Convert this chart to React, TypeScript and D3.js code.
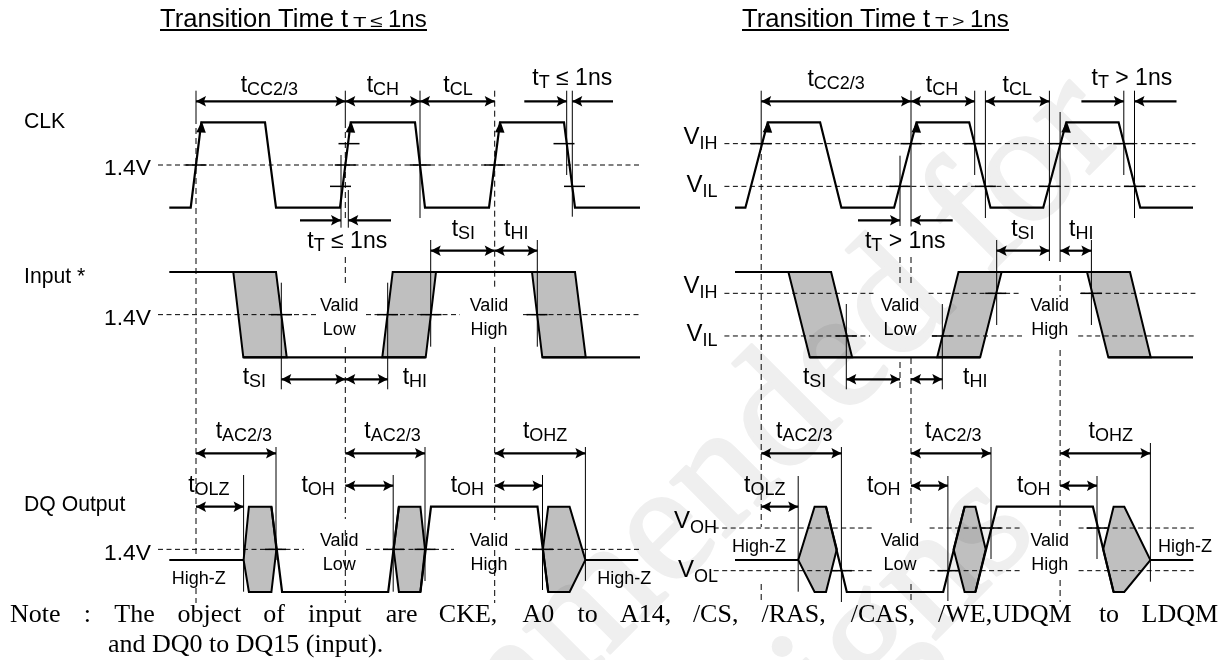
import React from "react";
import * as d3 from "d3";

// ---------- data: times are relative to the first CLK reference edge, levels 0 = low, 1 = high ----------
type P = [number, number];
const clkLeft: P[] = [[-26.7,0],[-5.3,0],[5.3,1],[69,1],[80,0],[144,0],[154.7,1],[219,1],[229,0],[293,0],[304,1],[368,1],[379,0],[444,0]];
const clkRight: P[] = [[-26.2,0],[-15.8,0],[6.5,1],[58.9,1],[80.2,0],[132.9,0],[155.3,1],[208,1],[229.3,0],[282,0],[305.1,1],[357.4,1],[379.1,0],[431.8,0]];
const clkArrowsLeft = [5.3,154.7,304];
const clkArrowsRight = [6.5,155.3,305.1];

const inputEyesLeft: P[][] = [
  [[37.3,1],[80,1],[90.7,0],[47.3,0]],
  [[196.7,1],[240,1],[229.7,0],[186.3,0]],
  [[336,1],[379,1],[389.7,0],[346.3,0]],
];
const inputRailsLeft: P[][] = [[[-26.7,1],[80,1]],[[196.7,1],[379,1]],[[47.3,0],[229.7,0]],[[346.3,0],[444,0]]];
const inputEyesRight: P[][] = [
  [[27.2,1],[69.9,1],[90.9,0],[48.6,0]],
  [[197.3,1],[240.4,1],[219,0],[176,0]],
  [[325.8,1],[368.8,1],[389.5,0],[347.1,0]],
];
const inputRailsRight: P[][] = [[[-26.2,1],[69.9,1]],[[197.3,1],[368.8,1]],[[48.6,0],[219,0]],[[347.1,0],[431.8,0]]];

const dqHexLeft: P[][] = [
  [[47.6,.375],[52.9,1],[75.4,1],[80.4,.5],[75.4,0],[52.9,0]],
  [[197.6,.5],[202.9,1],[224.4,1],[229,.5],[224.4,0],[202.9,0]],
  [[346.9,.5],[352.2,1],[373.6,1],[389.4,.375],[373.6,0],[352.2,0]],
];
const dqLinesLeft: P[][] = [
  [[-26.7,.375],[47.6,.375]],
  [[75.4,1],[86.1,0],[192.2,0],[202.9,1]],
  [[224.4,0],[235,1],[341.5,1],[352.2,0]],
  [[389.4,.375],[442.2,.375]],
];
const dqHexRight: P[][] = [
  [[37,.375],[53.4,1],[64.8,1],[75.6,.5],[64.8,0],[53.4,0]],
  [[192.4,.5],[203.4,1],[214.2,1],[224.5,.5],[214.2,0],[203.4,0]],
  [[342,.5],[352.4,1],[363.1,1],[389.2,.375],[363.1,0],[352.4,0]],
];
const dqLinesRight: P[][] = [
  [[-26.2,.375],[37,.375]],
  [[64.8,1],[85.6,0],[182,0],[203.4,1]],
  [[214.2,0],[235.6,1],[331.7,1],[352.4,0]],
  [[389.2,.375],[432,.375]],
];

// horizontal reference levels: [level, from, to]
const clkRefsLeft = [[.5,-38,444]];
const clkRefsRight = [[.75,-36.8,434.2],[.25,-36.8,434.2]];
const inRefsLeft = [[.5,-38,120.7],[.5,170,264],[.5,327,444]];
const inRefsRight = [[.75,-36.8,112.3],[.75,167.4,260.3],[.75,318.9,434.2],[.25,-36.8,108.8],[.25,170.8,262],[.25,317,434.2]];
const dqRefsLeft = [[.5,-38,108],[.5,170,258],[.5,319,444]];
const dqRefsRight = [[.75,-47.5,112.8],[.75,168.4,261.3],[.75,317.4,432.6],[.25,-47.5,112.8],[.25,168.4,261.3],[.25,317.4,432.6]];

// crossing ticks: [time, level]
const clkTicksLeft: P[] = [[0,.5],[149.3,.5],[224,.5],[298.7,.5],[153,.75],[368,.75],[144.5,.25],[378.5,.25]];
const clkTicksRight: P[] = [[0,.75],[149.8,.75],[213.5,.75],[298.9,.75],[362.6,.75],[138.8,.25],[224.2,.25],[288.2,.25],[373.3,.25]];
const inTicksLeft: P[] = [[85.5,.5],[191.5,.5],[235,.5],[341,.5]];
const inTicksRight: P[] = [[85.1,.25],[181.1,.25],[234.5,.75],[330.2,.75]];
const dqTicksLeft: P[] = [[79.5,.5],[197.5,.5],[229,.5],[346.5,.5]];
const dqTicksRight: P[] = [[229.8,.75],[335.8,.75],[80.2,.25],[186.7,.25]];

// ---------- layout (page space) ----------
const rows = { clk: [207.7,122.3], input: [357.3,272], dq: [592,506.7] };
const yClk = d3.scaleLinear().domain([0,1]).range(rows.clk);
const yIn = d3.scaleLinear().domain([0,1]).range(rows.input);
const yDq = d3.scaleLinear().domain([0,1]).range(rows.dq);
const SPAN = 472;
const xLeft = d3.scaleLinear().domain([0,SPAN]).range([196,196+SPAN]);
const xRight = d3.scaleLinear().domain([0,SPAN]).range([761.2,761.2+SPAN]);

// guides: [time, y1, y2, dashed]
type G = [number,number,number,number];
const guidesLeft: G[] = [
  [0,90.7,118,0],[0,118,556,1],[0,588,603,1],
  [149.3,90.7,122,0],[149.3,122,222,1],[149.3,257,285,1],[149.3,347,519,1],[149.3,530,603,1],
  [298.7,90.7,288,1],[298.7,347,520,1],[298.7,550,603,1],
  [224,90.7,218,0],[370.7,90.7,175,0],[376.3,90.7,216.7,0],
  [145,155,227.7,0],[152.3,190,227.7,0],
  [234.7,240,346.7,0],[341.3,240,346.7,0],[85.3,282.7,389.3,0],[191.7,282.7,389.3,0],
  [47.6,475,591.7,0],[197.2,475,591.7,0],[80,447,560,0],[229,447,581,0],[346.5,475,590,0],[389.4,447,581,0],
];
const guidesRight: G[] = [
  [0,90.7,144,0],[0,144,527,1],[0,584,602,1],
  [138.8,155.7,226,0],[138.8,257,286,1],[138.8,362,389,1],
  [149.8,90.7,226.5,0],[149.8,257,286,1],[149.8,358,523,1],[149.8,584,602,1],
  [213.5,90.7,175,0],[224.2,90.7,218,0],[288.2,90.7,261,0],
  [298.9,112,262,0],[298.9,275,297,1],[298.9,350,528,1],[298.9,580,602,1],
  [362.6,90.7,175,0],[373.3,90.7,218,0],
  [235.5,240,325,0],[330.2,240,325,0],[85.1,304,389.3,0],[181.1,304,389.3,0],
  [37,476,591.7,0],[80.2,447,602,0],[186.7,476,601,0],[229.8,447,559,0],[335.8,476,559,0],[389.2,443,581.7,0],
];

// arrows: [y, from, to, both ends]
type A = [number,number,number,number];
const arrowsLeft: A[] = [
  [101.3,0,149.3,1],[101.3,149.3,224,1],[101.3,224,298.7,1],
  [101.3,328.3,370.7,0],[101.3,417,376.3,0],
  [220.3,104,145,0],[220.3,195,152.3,0],
  [250.7,234.7,298.7,1],[250.7,298.7,341.3,1],
  [379.3,85.3,149.3,1],[379.3,149.3,191.7,1],
  [453.3,0,80,1],[453.3,149.3,229,1],[453.3,298.7,389.4,1],
  [485.7,149.3,197.2,1],[485.7,298.7,346.5,1],[506.7,0,47.6,1],
];
const arrowsRight: A[] = [
  [101.3,0,149.8,1],[101.3,149.8,213.5,1],[101.3,224.2,288.2,1],
  [101.3,320.2,362.6,0],[101.3,415.3,373.3,0],
  [220.3,96.8,138.8,0],[220.3,191.5,149.8,0],
  [250.7,235.5,288.2,1],[250.7,298.9,330.2,1],
  [379.3,85.1,138.8,1],[379.3,149.8,181.1,1],
  [453.3,0,80.2,1],[453.3,149.8,229.8,1],[453.3,298.9,389.2,1],
  [485.7,149.8,186.7,1],[485.7,298.9,335.8,1],[506.7,0,37,1],
];

// text: main, subscript, rest, x, baseline
type L = [string,string,string,number,number];
const timingLeft: L[] = [
  ["t","CC2/3","",240.7,92],["t","CH","",366.7,92],["t","CL","",443.3,92],["t","T"," ≤ 1ns",532.3,85],
  ["t","T"," ≤ 1ns",307.3,248],["t","SI","",451.7,236],["t","HI","",504,236],
  ["t","SI","",242.7,384],["t","HI","",402.7,384],
  ["t","AC2/3","",215.7,438.3],["t","AC2/3","",364.3,438.3],["t","OHZ","",522.9,438.3],
  ["t","OLZ","",188.2,491.7],["t","OH","",301.4,491.7],["t","OH","",450.7,491.7],
];
const timingRight: L[] = [
  ["t","CC2/3","",807.4,85.5],["t","CH","",925.8,92],["t","CL","",1002.6,92],["t","T"," > 1ns",1091.5,85],
  ["t","T"," > 1ns",864.9,248],["t","SI","",1011.2,236],["t","HI","",1069,236],
  ["t","SI","",802.9,384],["t","HI","",963,384],
  ["t","AC2/3","",776,438.3],["t","AC2/3","",925,438.3],["t","OHZ","",1088.6,438.3],
  ["t","OLZ","",744,491.7],["t","OH","",867,491.7],["t","OH","",1017,491.7],
  ["V","IH","",683.5,144],["V","IL","",686.6,192],["V","IH","",683.5,292.5],["V","IL","",686.6,341],
  ["V","OH","",674,528],["V","OL","",678,577],
];
const smallLeft: [string,number,number][] = [
  ["Valid",339.3,311],["Low",339.3,335],["Valid",489,311],["High",489,335],
  ["Valid",339.3,546],["Low",339.3,570],["Valid",489,546],["High",489,570],
  ["High-Z",198.7,584],["High-Z",624.3,584],
];
const smallRight: [string,number,number][] = [
  ["Valid",900,311],["Low",900,335],["Valid",1049.8,311],["High",1049.8,335],
  ["Valid",900,546],["Low",900,570],["Valid",1049.8,546],["High",1049.8,570],
  ["High-Z",759,551.6],["High-Z",1185,551.6],
];
const signalNames: [string,number][] = [["CLK",127.6],["Input *",283],["DQ Output",511]];
const voltLabels: number[] = [175,325,560];
const noteWords: [string,number][] = [
  ["Note",10],[":",83.7],["The",114.3],["object",177.6],["of",263.3],["input",308],["are",385.7],["CKE,",438.8],
  ["A0",522.4],["to",577.6],["A14,",620],["/CS,",692.9],["/RAS,",761.5],["/CAS,",850.7],["/WE,UDQM",938],["to",1098.9],["LDQM",1141.5],
];

const SANS = "'Liberation Sans', Arial, sans-serif";
const SERIF = "'Liberation Serif', 'Times New Roman', serif";
const line = d3.line<P>();

function toPath(pts: P[], x: (v:number)=>number, y: (v:number)=>number, close=false) {
  const d = line(pts.map(([t,l]) => [x(t), y(l)] as P)) || "";
  return close ? d + "Z" : d;
}

function HArrow({y,x1,x2,both}:{y:number;x1:number;x2:number;both:boolean}) {
  const dir = x2 > x1 ? 1 : -1;
  const head = (tip:number, d:number) => `M${tip},${y}L${tip-d*10},${y-5.2}L${tip-d*8},${y}L${tip-d*10},${y+5.2}Z`;
  return <g>
    <line x1={x1} x2={x2} y1={y} y2={y} stroke="#000" strokeWidth={2.2}/>
    <path d={head(x2,dir)} fill="#000"/>
    {both && <path d={head(x1,-dir)} fill="#000"/>}
  </g>;
}

function Timing({l}:{l:L}) {
  const [m,s,r,x,y] = l;
  const big = m === "V" ? 24 : 23;
  const drop = m === "V" ? 5 : 3;
  return <text x={x} y={y} fontFamily={SANS} fontSize={big} fill="#000">
    {m}<tspan fontSize={18} dy={drop}>{s}</tspan>{r && <tspan dy={-drop}>{r}</tspan>}
  </text>;
}

interface PanelProps {
  x: d3.ScaleLinear<number,number>;
  clk: P[]; arrowsUp: number[];
  eyes: P[][]; rails: P[][];
  hex: P[][]; dqLines: P[][];
  refs: number[][][]; ticks: P[][];
  guides: G[]; arrows: A[]; timing: L[]; small: [string,number,number][];
}

function Panel(p: PanelProps) {
  const {x} = p;
  const ys = [yClk,yIn,yDq];
  return <g>
    {p.refs.map((rs,i)=>rs.map((r,j)=>
      <line key={`${i}-${j}`} x1={x(r[1])} x2={x(r[2])} y1={ys[i](r[0])} y2={ys[i](r[0])} stroke="#000" strokeWidth={1} strokeDasharray="5 3.5"/>
    ))}
    {p.guides.map((g,i)=><line key={i} x1={x(g[0])} x2={x(g[0])} y1={g[1]} y2={g[2]} stroke="#000" strokeWidth={1} strokeDasharray={g[3]?"6 4":undefined}/>)}
    {p.eyes.map((e,i)=><path key={i} d={toPath(e,x,yIn,true)} fill="#bfbfbf" stroke="#000" strokeWidth={2} style={{mixBlendMode:"multiply"}}/>)}
    {p.hex.map((e,i)=><path key={i} d={toPath(e,x,yDq,true)} fill="#bfbfbf" stroke="#000" strokeWidth={2} style={{mixBlendMode:"multiply"}}/>)}
    <path d={toPath(p.clk,x,yClk)} fill="none" stroke="#000" strokeWidth={2.2}/>
    {p.rails.map((r,i)=><path key={i} d={toPath(r,x,yIn)} fill="none" stroke="#000" strokeWidth={2.2}/>)}
    {p.dqLines.map((r,i)=><path key={i} d={toPath(r,x,yDq)} fill="none" stroke="#000" strokeWidth={2.2}/>)}
    {p.arrowsUp.map((t,i)=>{
      const tip = x(t), top = yClk(1);
      return <path key={i} d={`M${tip+0.5},${top-1}L${tip-5},${top+10}L${tip+4.5},${top+10.5}Z`} fill="#000"/>;
    })}
    {p.ticks.map((ts,i)=>ts.map(([t,l],j)=>
      <line key={`${i}-${j}`} x1={x(t)-10.5} x2={x(t)+10.5} y1={ys[i](l)} y2={ys[i](l)} stroke="#000" strokeWidth={1.5}/>
    ))}
    {p.arrows.map((a,i)=><HArrow key={i} y={a[0]} x1={x(a[1])} x2={x(a[2])} both={!!a[3]}/>)}
    {p.timing.map((l,i)=><Timing key={i} l={l}/>)}
    {p.small.map(([s,cx,y],i)=><text key={i} x={cx} y={y} textAnchor="middle" fontFamily={SANS} fontSize={18} fill="#000">{s}</text>)}
  </g>;
}

function Title({x,sym}:{x:number;sym:string}) {
  return <g fontFamily={SANS} fill="#000">
    <text x={x} y={26.5} fontSize={25.6}>Transition Time t</text>
    <text x={x+193} y={26.5} fontSize={14} textLength={13.5} lengthAdjust="spacingAndGlyphs">T</text>
    <text x={x+210} y={26.5} fontSize={17} textLength={12.5} lengthAdjust="spacingAndGlyphs">{sym}</text>
    <text x={x+228} y={26.5} fontSize={24}>1ns</text>
    <line x1={x} x2={x+267} y1={30} y2={30} stroke="#000" strokeWidth={2}/>
  </g>;
}

export default function App() {
  return <svg width={1228} height={660} style={{position:"absolute",left:0,top:0,display:"block",background:"#fff"}}>
    <g fontFamily={SERIF} fill="#efefef" stroke="#efefef" strokeWidth={3} strokeLinejoin="round" fontSize={170}>
      <text transform="translate(1127,136) rotate(-45)" textAnchor="end">Not recommended for</text>
      <text transform="translate(1040,535) rotate(-45)" textAnchor="end">new designs</text>
    </g>
    <Title x={160} sym="≤"/>
    <Title x={742} sym=">"/>
    {signalNames.map(([s,y],i)=><text key={i} x={24} y={y} fontFamily={SANS} fontSize={21.2}>{s}</text>)}
    {voltLabels.map((y,i)=><text key={i} x={104} y={y} fontFamily={SANS} fontSize={22.8}>1.4V</text>)}
    <Panel x={xLeft} clk={clkLeft} arrowsUp={clkArrowsLeft} eyes={inputEyesLeft} rails={inputRailsLeft} hex={dqHexLeft} dqLines={dqLinesLeft}
      refs={[clkRefsLeft,inRefsLeft,dqRefsLeft]} ticks={[clkTicksLeft,inTicksLeft,dqTicksLeft]} guides={guidesLeft} arrows={arrowsLeft} timing={timingLeft} small={smallLeft}/>
    <Panel x={xRight} clk={clkRight} arrowsUp={clkArrowsRight} eyes={inputEyesRight} rails={inputRailsRight} hex={dqHexRight} dqLines={dqLinesRight}
      refs={[clkRefsRight,inRefsRight,dqRefsRight]} ticks={[clkTicksRight,inTicksRight,dqTicksRight]} guides={guidesRight} arrows={arrowsRight} timing={timingRight} small={smallRight}/>
    <g fontFamily={SERIF} fontSize={26} fill="#000">
      {noteWords.map(([w,x],i)=><text key={i} x={x} y={622}>{w}</text>)}
      <text x={108} y={652}>and DQ0 to DQ15 (input).</text>
    </g>
  </svg>;
}
